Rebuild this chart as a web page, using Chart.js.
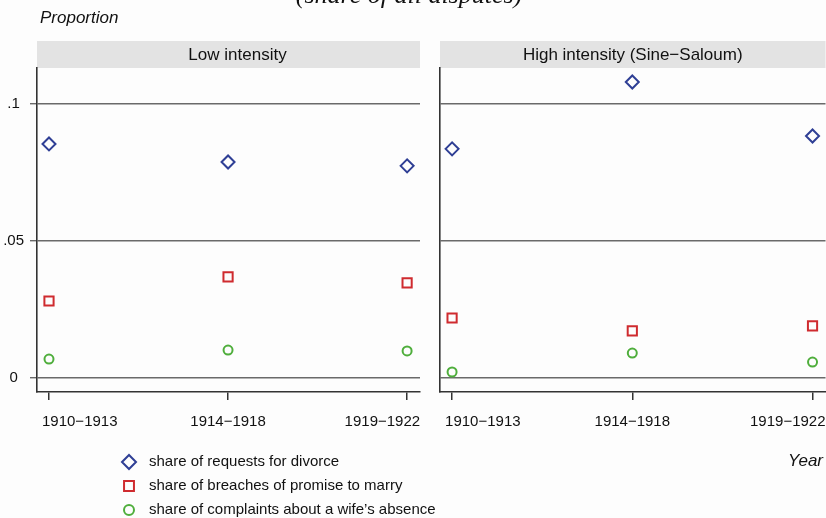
<!DOCTYPE html>
<html>
<head>
<meta charset="utf-8">
<script src="https://cdn.jsdelivr.net/npm/chart.js@4/dist/chart.umd.min.js"></script>
<style>
  html, body { margin: 0; padding: 0; background: #fdfdfd; }
  #wrap { position: relative; width: 826px; height: 518px; overflow: hidden; }
  canvas { position: absolute; top: 0; }
</style>
</head>
<body>
<div id="wrap">
  <canvas id="left" width="826" height="518" style="left:0"></canvas>
  <canvas id="right" width="408" height="518" style="left:426px"></canvas>
</div>
<script>
// categorias e valores
const periods = ['1910\u22121913', '1914\u22121918', '1919\u22121922']
const panels = ['Low intensity', 'High intensity (Sine\u2212Saloum)']
const yTicks = [0, 0.05, 0.1]
const yTickLabels = ['0', '.05', '.1']

const divorceLow = [0.0854, 0.0788, 0.0774]
const breachLow = [0.0281, 0.0369, 0.0347]
const absenceLow = [0.0069, 0.0102, 0.0099]

const divorceHigh = [0.0836, 0.1080, 0.0883]
const breachHigh = [0.0219, 0.0172, 0.0190]
const absenceHigh = [0.0022, 0.0091, 0.0058]

const seriesNames = [
  'share of requests for divorce',
  'share of breaches of promise to marry',
  'share of complaints about a wife\u2019s absence'
]

const FONT = "'Liberation Sans', Arial, sans-serif"
Chart.defaults.font.family = FONT
Chart.defaults.color = '#111'

const styles = [
  { pointStyle: 'rectRot', pointRadius: 6.5, borderColor: '#2f3f95' },
  { pointStyle: 'rect', pointRadius: 6.5, borderColor: '#cf2b2f' },
  { pointStyle: 'circle', pointRadius: 4.5, borderColor: '#4fae3c' }
]

function makeDatasets(a, b, c) {
  return [a, b, c].map((vals, i) => ({
    label: seriesNames[i],
    data: vals.map((v, k) => ({ x: k, y: v })),
    showLine: false,
    pointStyle: styles[i].pointStyle,
    pointRadius: styles[i].pointRadius,
    pointHoverRadius: styles[i].pointRadius,
    pointBorderWidth: 2,
    pointBackgroundColor: 'rgba(0,0,0,0)',
    pointBorderColor: styles[i].borderColor,
    borderColor: styles[i].borderColor,
    backgroundColor: 'rgba(0,0,0,0)'
  }))
}

// faixa cinza com o título do painel
const stripPlugin = {
  id: 'strip',
  beforeDraw(chart, args, opts) {
    const { ctx, chartArea } = chart
    ctx.save()
    ctx.fillStyle = '#e3e3e3'
    ctx.fillRect(chartArea.left, 41, chartArea.right - chartArea.left, 27)
    ctx.fillStyle = '#111'
    ctx.font = '17px ' + FONT
    ctx.textAlign = 'center'
    ctx.textBaseline = 'middle'
    ctx.fillText(opts.text, (chartArea.left + chartArea.right) / 2 + opts.shift, 55)
    ctx.restore()
  }
}

// rótulos do eixo x: o primeiro encostado à esquerda, o último à direita (como no Stata)
const xLabelsPlugin = {
  id: 'xLabels',
  afterDraw(chart) {
    const { ctx } = chart
    const s = chart.scales.x
    ctx.save()
    ctx.fillStyle = '#111'
    ctx.font = '15px ' + FONT
    ctx.textBaseline = 'middle'
    s.ticks.forEach((t, i) => {
      let x = s.getPixelForValue(t.value)
      if (i === 0) { ctx.textAlign = 'left'; x -= 7 }
      else if (i === s.ticks.length - 1) { ctx.textAlign = 'right'; x += 13 }
      else ctx.textAlign = 'center'
      ctx.fillText(periods[t.value], x, 422)
    })
    ctx.restore()
  }
}

// textos soltos e legenda desenhados no canvas esquerdo
const extrasPlugin = {
  id: 'extras',
  afterDraw(chart) {
    const ctx = chart.ctx
    ctx.save()
    ctx.fillStyle = '#111'
    ctx.font = 'italic 26px "Liberation Serif", "Times New Roman", serif'
    ctx.textAlign = 'center'
    ctx.textBaseline = 'alphabetic'
    ctx.fillText('(share of all disputes)', 409, 3)

    ctx.font = 'italic 17px ' + FONT
    ctx.textAlign = 'left'
    ctx.textBaseline = 'middle'
    ctx.fillText('Proportion', 40, 18)
    ctx.textAlign = 'right'
    ctx.fillText('Year', 823, 461)

    const rows = [462, 486, 510]
    chart.data.datasets.forEach((ds, i) => {
      ctx.strokeStyle = ds.pointBorderColor
      ctx.fillStyle = 'rgba(0,0,0,0)'
      ctx.lineWidth = 2
      Chart.helpers.drawPoint(ctx, {
        pointStyle: ds.pointStyle,
        radius: ds.pointRadius + 0.5,
        rotation: 0,
        borderWidth: 2
      }, 129, rows[i])
      ctx.fillStyle = '#111'
      ctx.font = '15px ' + FONT
      ctx.textAlign = 'left'
      ctx.fillText(ds.label, 149, rows[i])
    })
    ctx.restore()
  }
}

function makeOptions(isLeft, title) {
  return {
    responsive: false,
    animation: false,
    layout: { padding: { top: 68, right: isLeft ? 406 : 0, left: 0, bottom: 0 } },
    plugins: {
      legend: { display: false },
      tooltip: { enabled: false },
      strip: { text: title, shift: isLeft ? 9 : 0 }
    },
    scales: {
      x: {
        type: 'linear',
        min: -0.067,
        max: 2.072,
        afterBuildTicks: s => { s.ticks = periods.map((p, i) => ({ value: i })) },
        afterFit: s => {
          s.height = 126
          s.paddingLeft = 0
          s.paddingRight = 0
        },
        ticks: { display: false },
        grid: { drawOnChartArea: false, tickLength: 8, color: '#333', lineWidth: 1.5 },
        border: { display: true, color: '#333', width: 1.6 }
      },
      y: {
        type: 'linear',
        min: -0.0051,
        max: 0.1131,
        afterBuildTicks: s => { s.ticks = yTicks.map(v => ({ value: v })) },
        afterFit: s => { s.width = isLeft ? 37 : 14 },
        ticks: {
          display: isLeft,
          callback: v => yTickLabels[yTicks.indexOf(v)],
          font: { size: 15 },
          color: '#111',
          padding: 6,
          crossAlign: 'center'
        },
        grid: {
          drawTicks: isLeft,
          tickLength: isLeft ? 7 : 0,
          color: '#6a6a6a',
          lineWidth: 1.4
        },
        border: { display: true, color: '#333', width: 1.6 }
      }
    }
  }
}

new Chart(document.getElementById('left').getContext('2d'), {
  type: 'scatter',
  data: { datasets: makeDatasets(divorceLow, breachLow, absenceLow) },
  options: makeOptions(true, panels[0]),
  plugins: [stripPlugin, xLabelsPlugin, extrasPlugin]
})

new Chart(document.getElementById('right').getContext('2d'), {
  type: 'scatter',
  data: { datasets: makeDatasets(divorceHigh, breachHigh, absenceHigh) },
  options: makeOptions(false, panels[1]),
  plugins: [stripPlugin, xLabelsPlugin]
})
</script>
</body>
</html>
